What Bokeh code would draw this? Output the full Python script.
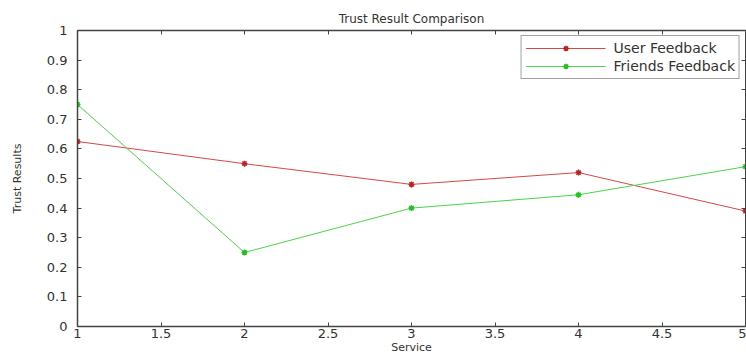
from bokeh.plotting import figure
from bokeh.models import LinearAxis, Range1d, FixedTicker, Legend, LegendItem, Title
from bokeh.embed import file_html
from bokeh.resources import INLINE

services = [1, 2, 3, 4, 5]
user_feedback = [0.625, 0.55, 0.48, 0.52, 0.39]
friends_feedback = [0.75, 0.25, 0.40, 0.445, 0.54]
x_ticks = [1, 1.5, 2, 2.5, 3, 3.5, 4, 4.5, 5]
y_ticks = [0, 0.1, 0.2, 0.3, 0.4, 0.5, 0.6, 0.7, 0.8, 0.9, 1]

FONT = "DejaVu Sans"
RED_LINE = "#d44848"
RED_MARK = "#c02020"
GREEN_LINE = "#4cd44c"
GREEN_MARK = "#22c022"
AXIS = "#444444"
TEXT = "#333333"

p = figure(width=746, height=356, output_backend="svg", toolbar_location=None,
           x_range=Range1d(1, 5), y_range=Range1d(0, 1),
           min_border_left=77, min_border_right=1, min_border_top=30, min_border_bottom=28)
p.grid.visible = False
p.outline_line_color = AXIS
p.outline_line_width = 1

for ax in p.xaxis + p.yaxis:
    ax.major_tick_in = 4
    ax.major_tick_out = 0
    ax.minor_tick_in = 0
    ax.minor_tick_out = 0
    ax.axis_line_color = AXIS
    ax.axis_line_width = 1.5
    ax.major_tick_line_color = AXIS
    ax.major_label_text_font = FONT
    ax.major_label_text_font_size = "13px"
    ax.major_label_text_color = TEXT
    ax.axis_label_text_font = FONT
    ax.axis_label_text_font_size = "11px"
    ax.axis_label_text_font_style = "normal"
    ax.axis_label_text_color = TEXT

p.xaxis.ticker = FixedTicker(ticks=x_ticks)
p.yaxis.ticker = FixedTicker(ticks=y_ticks)
p.xaxis.major_label_overrides = {1: "1", 2: "2", 3: "3", 4: "4", 5: "5"}
p.yaxis.major_label_overrides = {0: "0", 1: "1"}
p.xaxis.axis_label = "Service"
p.yaxis.axis_label = "Trust Results"
p.xaxis.major_label_standoff = 2
p.xaxis.axis_label_standoff = 0
p.yaxis.major_label_standoff = 10
p.yaxis.axis_label_standoff = 20

top = LinearAxis(ticker=FixedTicker(ticks=x_ticks),
                 major_label_overrides={t: "" for t in x_ticks},
                 major_tick_in=4, major_tick_out=0, minor_tick_in=0, minor_tick_out=0,
                 axis_line_color=AXIS, axis_line_width=1.5, major_tick_line_color=AXIS,
                 major_label_standoff=0)
right = LinearAxis(ticker=FixedTicker(ticks=y_ticks),
                   major_label_overrides={t: "" for t in y_ticks},
                   major_tick_in=4, major_tick_out=0, minor_tick_in=0, minor_tick_out=0,
                   axis_line_color=AXIS, major_tick_line_color=AXIS, major_label_standoff=0)
p.add_layout(top, "above")
p.add_layout(right, "right")

p.add_layout(Title(text="Trust Result Comparison", align="center", text_font=FONT,
                   text_font_size="12px", text_font_style="normal", text_color=TEXT,
                   offset=0, standoff=9), "above")

r1 = p.line(services, user_feedback, line_color=RED_LINE, line_width=1)
s1 = p.scatter(services, user_feedback, marker="asterisk", size=6, line_color=RED_MARK, line_width=1.5)
r2 = p.line(services, friends_feedback, line_color=GREEN_LINE, line_width=1)
s2 = p.scatter(services, friends_feedback, marker="asterisk", size=6, line_color=GREEN_MARK, line_width=1.5)

legend = Legend(items=[LegendItem(label="User Feedback", renderers=[r1, s1]),
                       LegendItem(label="Friends Feedback", renderers=[r2, s2])],
                location="top_right", border_line_color=AXIS, border_line_width=1.5,
                label_text_font=FONT, label_text_font_size="14px", label_text_color=TEXT,
                glyph_width=80, glyph_height=14, label_height=14, spacing=2,
                padding=4, margin=5, label_standoff=8)
p.add_layout(legend)

open("out.html", "w").write(file_html(p, INLINE))
